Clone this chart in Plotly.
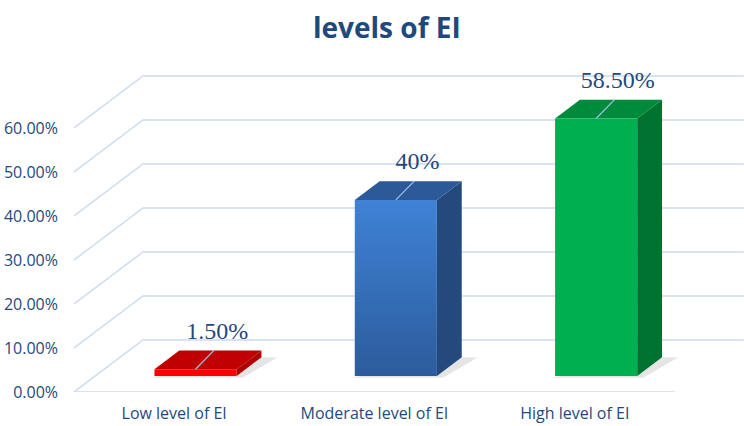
import plotly.graph_objects as go

# ---------------- data ----------------
categories = ["Low level of EI", "Moderate level of EI", "High level of EI"]
values = [1.5, 40.0, 58.5]
value_labels = ["1.50%", "40%", "58.50%"]
tick_values = [0, 10, 20, 30, 40, 50, 60]
tick_labels = ["0.00%", "10.00%", "20.00%", "30.00%", "40.00%", "50.00%", "60.00%"]
title_text = "levels of EI"

# ---------------- style ----------------
front_colors = ["#FF0000", "#3A7BD0", "#00B050"]
front_grad = [None, [[0, "#2C5C9C"], [1, "#3F82D6"]], None]
top_colors = ["#C00000", "#2C5A98", "#008A3C"]
side_colors = ["#B00000", "#24497C", "#007230"]
grid_color = "rgb(203,219,240)"
text_color = "#1F497D"
leader_color = "#9DC3E6"

# oblique-projection depth vector (in axis units)
DX, DY = 0.3445, 11.82
F1, F2 = 0.31, 0.67      # bar front / back depth fraction
HW = 0.205               # bar half-width
X0, X1 = -0.5, len(categories) - 0.5

fig = go.Figure()

# 3D grid: side wall + back wall lines
for v in tick_values:
    fig.add_trace(go.Scatter(
        x=[X0, X0 + DX, X1 + DX], y=[v, v + DY, v + DY],
        mode="lines", line=dict(color=grid_color, width=1.4),
        hoverinfo="skip", showlegend=False, cliponaxis=False))
# floor front edge
fig.add_trace(go.Scatter(
    x=[X0, X1], y=[0, 0], mode="lines",
    line=dict(color=grid_color, width=1.4),
    hoverinfo="skip", showlegend=False, cliponaxis=False))

def poly(xs, ys, color, grad=None, opacity=1.0):
    kw = dict(x=xs + [xs[0]], y=ys + [ys[0]], mode="lines", fill="toself",
              line=dict(width=0, color=color), fillcolor=color,
              hoverinfo="skip", showlegend=False, cliponaxis=False,
              opacity=opacity)
    if grad is not None:
        kw["fillgradient"] = dict(type="vertical", colorscale=grad)
    fig.add_trace(go.Scatter(**kw))

for i, v in enumerate(values):
    c = i
    ox1, oy1 = F1 * DX, F1 * DY
    ox2, oy2 = F2 * DX, F2 * DY
    xl, xr = c - HW, c + HW
    # soft shadow
    poly([xl + ox1 - 0.02, xr + ox1 + 0.03, xr + ox2 + 0.08, xr + ox2],
         [oy1 - 0.4, oy1 - 0.4, oy2 - 0.1, oy2],
         "rgba(0,0,0,0.10)")
    # side face
    poly([xr + ox1, xr + ox1, xr + ox2, xr + ox2],
         [oy1, v + oy1, v + oy2, oy2], side_colors[i])
    # top face
    poly([xl + ox1, xr + ox1, xr + ox2, xl + ox2],
         [v + oy1, v + oy1, v + oy2, v + oy2], top_colors[i])
    # front face
    poly([xl + ox1, xr + ox1, xr + ox1, xl + ox1],
         [oy1, oy1, v + oy1, v + oy1], front_colors[i], grad=front_grad[i])
    # leader line
    fig.add_trace(go.Scatter(
        x=[c + ox1, c + 0.2], y=[v + oy1, v + 8.0], mode="lines",
        line=dict(color=leader_color, width=1.2),
        hoverinfo="skip", showlegend=False, cliponaxis=False))
    # value label
    fig.add_trace(go.Scatter(
        x=[c + 0.215], y=[v + 12.0], mode="text", text=[value_labels[i]],
        textfont=dict(family="Liberation Serif", size=24, color=text_color),
        textposition="middle center",
        hoverinfo="skip", showlegend=False, cliponaxis=False))

fig.update_layout(
    width=744, height=426,
    margin=dict(l=74, r=0, t=60, b=34),
    paper_bgcolor="white", plot_bgcolor="white",
    showlegend=False,
    title=dict(text=f"<b>{title_text}</b>", x=0.52, xref="container",
               y=1 - 28 / 426, yref="container", xanchor="center", yanchor="middle",
               font=dict(family="Open Sans", size=28, color=text_color)),
    xaxis=dict(range=[X0, X0 + 670 / 200.3], tickvals=list(range(len(categories))),
               ticktext=categories, showgrid=False, zeroline=False, showline=False,
               ticks="", ticklabelstandoff=10,
               tickfont=dict(family="Open Sans", size=16, color=text_color)),
    yaxis=dict(range=[0, 332 / 4.4], tickvals=tick_values, ticktext=tick_labels,
               showgrid=False, zeroline=False, showline=False, ticks="",
               ticklabelstandoff=15,
               tickfont=dict(family="Open Sans", size=16, color=text_color)),
)

fig.write_html("out.html")
